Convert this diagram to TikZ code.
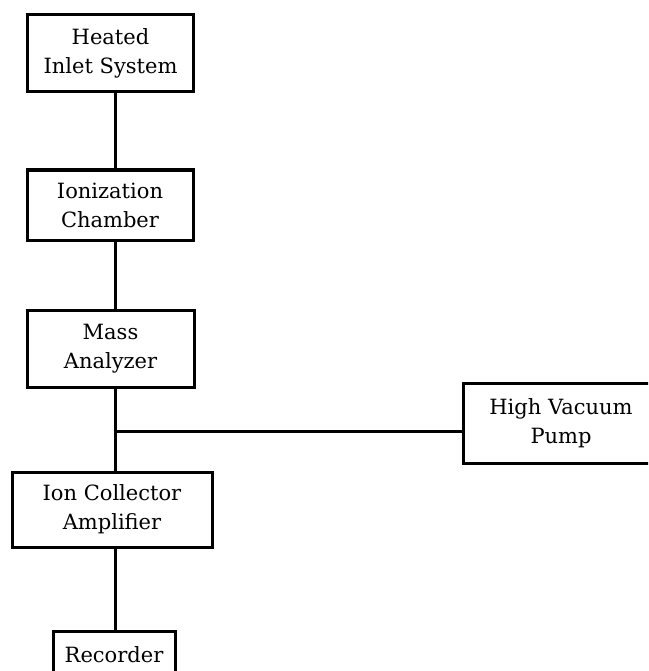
\documentclass[tikz,border=0pt]{standalone}
\usepackage{fontspec}
\setmainfont{DejaVu Serif}
\begin{document}
\begin{tikzpicture}[x=1pt,y=-1pt,
  blk/.style={draw,line width=3pt,inner sep=0pt,align=center,font=\fontsize{21}{29}\selectfont},
  wire/.style={line width=3pt}]
\useasboundingbox (0,0) rectangle (648,671);
\clip (0,0) rectangle (648,671);
\node[blk,minimum width=166,minimum height=77] (heated) at (110.5,53.5) {Heated\\Inlet System};
\node[blk,minimum width=166,minimum height=70] (ion) at (110,205) {Ionization\\Chamber};
\node[blk,minimum width=167,minimum height=77] (mass) at (110.5,348.5) {Mass\\Analyzer};
\node[blk,minimum width=196,minimum height=80] (hv) at (561,423) {High Vacuum\\Pump};
\node[blk,minimum width=200,minimum height=75] (coll) at (112,509.5) {Ion Collector\\Amplifier};
\node[blk,minimum width=122,minimum height=46,anchor=north] (rec) at (114,630) {Recorder};
\coordinate (j) at (115,431);
\draw[wire] (heated.south -| j) -- (ion.north -| j);
\draw[wire] (ion.south -| j) -- (mass.north -| j);
\draw[wire] (mass.south -| j) -- (coll.north -| j);
\draw[wire] (j) -- (hv.west |- j);
\draw[wire] (coll.south -| j) -- (rec.north -| j);
\end{tikzpicture}
\end{document}
